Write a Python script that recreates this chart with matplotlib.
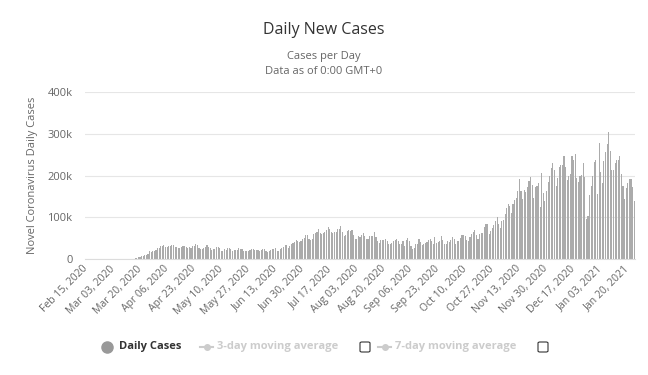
import matplotlib
matplotlib.use("Agg")
import matplotlib.pyplot as plt
from matplotlib.lines import Line2D
from matplotlib.patches import FancyBboxPatch
import numpy as np

# Daily new cases, Feb 15, 2020 .. Jan 24, 2021
feb = [0, 0, 0, 0, 0, 0, 2, 0, 0, 0, 0, 1, 1, 2, 8]
mar = [9, 22, 23, 31, 68, 45, 140, 116, 65, 376, 322, 382, 516, 548, 772, 1133,
       1789, 1362, 5894, 5423, 6389, 7787, 10571, 9893, 12038, 18058, 17821,
       19821, 19408, 20922, 26341]
apr = [25200, 30081, 31824, 33267, 28238, 29595, 32144, 32249, 34037, 33752,
       29861, 28917, 25306, 27051, 29567, 31537, 32165, 29057, 26612, 28123,
       25985, 29973, 31900, 36958, 33955, 26857, 24143, 25023, 27327, 29515]
may = [34037, 29078, 25501, 22335, 24252, 24980, 29162, 28369, 25612, 20329,
       18621, 22860, 20782, 27368, 25508, 24487, 18873, 22630, 21551, 21327,
       27342, 24124, 23173, 19608, 18768, 19064, 19984, 22577, 24452, 24133, 20525]
jun = [21364, 20542, 20149, 21552, 24995, 23065, 18081, 17071, 18278, 21052,
       23324, 25003, 25514, 19112, 20121, 23804, 25957, 28077, 33539, 32411,
       27358, 31498, 36015, 38115, 39972, 45255, 43581, 40540, 42721, 47240]
jul = [51097, 57236, 57562, 47000, 45000, 49093, 60209, 62918, 64771, 71787,
       61352, 59999, 63201, 65797, 68428, 75687, 71558, 63698, 61713, 63872,
       65429, 71967, 72219, 78427, 65498, 55130, 56336, 66921, 69064, 68032, 69150]
aug = [58000, 47000, 48000, 55000, 53000, 58000, 62000, 55000, 47000, 49000,
       54000, 54000, 55000, 64000, 53000, 42000, 39000, 45000, 46000, 46000,
       49000, 44000, 36000, 37000, 39000, 44000, 46000, 48000, 43000, 35000, 37000]
sep = [44000, 32000, 45000, 51000, 43000, 31000, 25000, 27000, 35000, 36000,
       48000, 40000, 34000, 37000, 39000, 40000, 45000, 49000, 43000, 35000,
       52000, 39000, 40000, 44000, 55000, 46000, 35000, 36000, 43000, 40000]
oct_ = [46000, 52000, 49000, 35000, 42000, 44000, 51000, 58000, 57000, 54000,
        46000, 42000, 52000, 59000, 65000, 70000, 57000, 49000, 61000, 62000,
        63000, 76000, 84000, 83000, 61000, 67000, 74000, 81000, 91000, 100000, 85000]
nov = [75000, 92000, 93000, 108000, 121000, 132000, 128000, 111000, 131000, 141000,
       147000, 162000, 191000, 164000, 143000, 166000, 161000, 172000, 187000, 197000,
       178000, 145000, 172000, 176000, 183000, 125000, 206000, 157000, 140000, 163000]
dec = [185000, 200000, 218000, 229000, 213000, 176000, 194000, 221000, 224000, 225000,
       246000, 221000, 190000, 199000, 203000, 246000, 236000, 251000, 194000, 184000,
       199000, 201000, 230000, 197000, 97000, 104000, 154000, 175000, 199000, 233000, 236000]
jan = [155000, 277000, 209000, 182000, 234000, 257000, 275000, 305000, 258000, 213000,
       214000, 229000, 236000, 237000, 247000, 203000, 176000, 143000, 171000, 183000,
       192000, 192000, 172000, 140000]

daily_cases = feb + mar + apr + may + jun + jul + aug + sep + oct_ + nov + dec + jan

tick_labels = ["Feb 15, 2020", "Mar 03, 2020", "Mar 20, 2020", "Apr 06, 2020",
               "Apr 23, 2020", "May 10, 2020", "May 27, 2020", "Jun 13, 2020",
               "Jun 30, 2020", "Jul 17, 2020", "Aug 03, 2020", "Aug 20, 2020",
               "Sep 06, 2020", "Sep 23, 2020", "Oct 10, 2020", "Oct 27, 2020",
               "Nov 13, 2020", "Nov 30, 2020", "Dec 17, 2020", "Jan 03, 2021",
               "Jan 20, 2021"]
tick_step = 17

y_ticks = [0, 100000, 200000, 300000, 400000]
y_tick_labels = ["0", "100k", "200k", "300k", "400k"]

plt.rcParams['font.family'] = ['Open Sans', 'DejaVu Sans']

W, H = 648, 375
fig = plt.figure(figsize=(W / 100, H / 100), dpi=100)
ax = fig.add_axes([85 / W, 1 - 259 / H, (635 - 85) / W, (259 - 92) / H])

x = np.arange(len(daily_cases))
ax.bar(x, daily_cases, width=0.7, color='#ababab', linewidth=0)

ax.set_xlim(-0.5, len(daily_cases) - 0.5)
ax.set_ylim(0, 400000)
ax.set_yticks(y_ticks)
ax.set_yticklabels(y_tick_labels)
ax.yaxis.grid(True, color='#e6e6e6', linewidth=0.8)
ax.set_axisbelow(True)
for s in ['top', 'right', 'left']:
    ax.spines[s].set_visible(False)
ax.spines['bottom'].set_color('#dcdcdc')
ax.tick_params(axis='y', length=0, pad=9, labelsize=8, labelcolor='#666666')
ax.tick_params(axis='x', length=0, pad=6, labelsize=7.5, labelcolor='#666666')

ax.set_xticks(np.arange(0, len(tick_labels) * tick_step, tick_step))
ax.set_xticklabels(tick_labels, rotation=45, ha='right', va='center',
                   rotation_mode='anchor')

ax.set_ylabel("Novel Coronavirus Daily Cases", fontsize=8, color='#666666',
              labelpad=7)

fig.text(0.5, 1 - 30 / H, "Daily New Cases", ha='center', va='center',
         fontsize=11.5, color='#333333')
fig.text(0.5, 1 - 57 / H, "Cases per Day", ha='center', va='center',
         fontsize=8, color='#666666')
fig.text(0.5, 1 - 71 / H, "Data as of 0:00 GMT+0", ha='center', va='center',
         fontsize=8, color='#666666')

# Legend
ly = 1 - 347 / H
fig.add_artist(Line2D([107 / W], [ly], marker='o', markersize=8, color='#999999',
                      transform=fig.transFigure, linestyle='none'))
fig.text(119 / W, ly, "Daily Cases", ha='left', va='center', fontsize=8,
         fontweight='bold', color='#333333')
for x0, x1, tx, label in [(200, 213, 217, "3-day moving average"),
                          (378, 391, 395, "7-day moving average")]:
    fig.add_artist(Line2D([x0 / W, x1 / W], [ly, ly], color='#cccccc', linewidth=1.5,
                          transform=fig.transFigure))
    fig.add_artist(Line2D([(x0 + x1) / 2 / W], [ly], marker='o', markersize=4,
                          color='#cccccc', transform=fig.transFigure))
    fig.text(tx / W, ly, label, ha='left', va='center', fontsize=8,
             fontweight='bold', color='#cccccc')
for cx in [360, 538]:
    fig.add_artist(FancyBboxPatch((cx / W, (H - 352) / H), 10 / W, 10 / H,
                                  boxstyle="round,pad=0,rounding_size=0.003",
                                  transform=fig.transFigure, facecolor='white',
                                  edgecolor='#333333', linewidth=0.8))

fig.savefig("out.png", dpi=100)
